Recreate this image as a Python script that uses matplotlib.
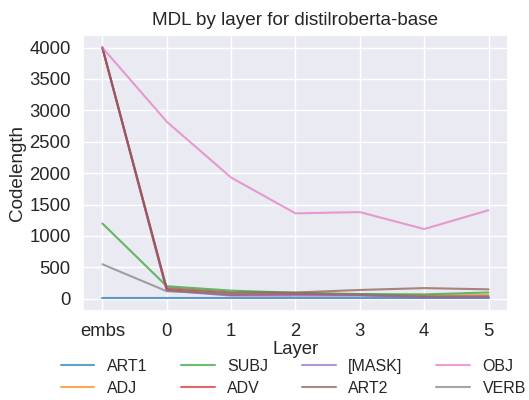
import matplotlib
matplotlib.use('Agg')
import matplotlib.pyplot as plt
import seaborn as sns

sns.set_theme(style='darkgrid')
plt.rcParams['font.family'] = ['Liberation Sans', 'DejaVu Sans']

layers = ['embs', '0', '1', '2', '3', '4', '5']
art1 = [5, 5, 5, 5, 5, 5, 5]
adj = [4000, 150, 90, 80, 70, 50, 60]
subj = [1200, 200, 130, 95, 75, 70, 100]
adv = [4000, 140, 60, 70, 60, 30, 30]
mask = [4000, 130, 50, 50, 50, 20, 20]
art2 = [4000, 170, 100, 100, 140, 170, 150]
obj = [4000, 2820, 1930, 1360, 1380, 1110, 1410]
verb = [550, 120, 80, 90, 70, 40, 40]

series = [('ART1', art1), ('ADJ', adj), ('SUBJ', subj), ('ADV', adv),
          ('[MASK]', mask), ('ART2', art2), ('OBJ', obj), ('VERB', verb)]
colors = ['tab:blue', 'tab:orange', 'tab:green', 'tab:red',
          'tab:purple', 'tab:brown', 'tab:pink', 'tab:gray']

fig, ax = plt.subplots(figsize=(5.29, 4.0), dpi=100)
x = list(range(len(layers)))
for (name, vals), c in zip(series, colors):
    ax.plot(x, vals, label=name, color=c, alpha=0.7, linewidth=1.5)

ax.set_xticks(x)
ax.set_xticklabels(layers)
ax.set_yticks(range(0, 4001, 500))
ax.tick_params(labelsize=13.3, pad=3)
ax.set_xlabel('Layer', fontsize=13.3, labelpad=0)
ax.set_ylabel('Codelength', fontsize=13.6, labelpad=2)
ax.set_title('MDL by layer for distilroberta-base', fontsize=13.6, pad=7)

ax.legend(loc='upper center', bbox_to_anchor=(0.495, -0.15), ncol=4,
          frameon=False, fontsize=11.5, columnspacing=2.1, handlelength=2.1,
          handletextpad=0.8, labelspacing=0.45, borderaxespad=0)
fig.subplots_adjust(left=0.157, right=0.96, top=0.9125, bottom=0.2225)
fig.savefig('out.png', dpi=100)
